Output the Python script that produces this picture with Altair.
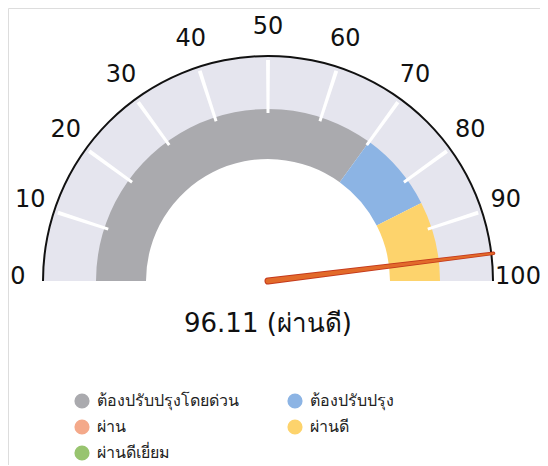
import math
import altair as alt
import pandas as pd

# ---------------- data ----------------
categories = ["ต้องปรับปรุงโดยด่วน", "ต้องปรับปรุง", "ผ่าน", "ผ่านดี", "ผ่านดีเยี่ยม"]
category_colors = ["#aaaaae", "#8cb4e4", "#f4a98a", "#fdd36c", "#98c46f"]

band_category = ["ต้องปรับปรุงโดยด่วน", "ต้องปรับปรุง", "ผ่านดี"]
band_start = [0, 70, 85]
band_end = [70, 85, 100]

tick_values = [10, 20, 30, 40, 50, 60, 70, 80, 90]
label_values = [0, 10, 20, 30, 40, 50, 60, 70, 80, 90, 100]

score = 96.11
score_text = "96.11 (ผ่านดี)"

needle_r = [0.0, 1.01]
needle_w_outer = [7.0, 3.4]
needle_w_inner = [5.0, 1.8]

# ---------------- layout constants ----------------
W, H = 532, 457
CX, CY = 260, 273
R_OUT = 225
FONT = "Noto Sans"
NUM_FONT = "DejaVu Sans"

theta_scale = alt.Scale(domain=[0, 100], range=[-math.pi / 2, math.pi / 2])

bands = pd.DataFrame({"cat": band_category, "start": band_start, "end": band_end})
full = pd.DataFrame({"start": [0], "end": [100]})
ticks = pd.DataFrame({"v": tick_values})
labels = pd.DataFrame({"v": label_values, "t": [str(v) for v in label_values]})
needle = pd.DataFrame({"r": needle_r, "wo": needle_w_outer, "wi": needle_w_inner, "v": [score, score]})
center = pd.DataFrame({"t": [score_text]})

cx = alt.value(CX)
cy = alt.value(CY)

light = alt.Chart(full).mark_arc(radius=R_OUT, radius2=170, color="#e5e5ee").encode(
    theta=alt.Theta("start:Q", scale=theta_scale, stack=False),
    theta2="end:Q",
    x=cx, y=cy,
)

outline = alt.Chart(full).mark_arc(radius=R_OUT + 1, radius2=R_OUT - 1, color="#111111").encode(
    theta=alt.Theta("start:Q", scale=theta_scale, stack=False),
    theta2="end:Q",
    x=cx, y=cy,
)

band_layer = alt.Chart(bands).mark_arc(radius=172, radius2=122).encode(
    theta=alt.Theta("start:Q", scale=theta_scale, stack=False),
    theta2="end:Q",
    color=alt.Color(
        "cat:N",
        scale=alt.Scale(domain=categories, range=category_colors),
        legend=alt.Legend(
            title=None,
            orient="none",
            legendX=66,
            legendY=385,
            columns=2,
            direction="horizontal",
            symbolType="circle",
            symbolSize=230,
            symbolStrokeWidth=0,
            symbolOpacity=1,
            labelFont=FONT,
            labelFontSize=16,
            labelColor="#222222",
            labelOffset=7,
            rowPadding=10,
            columnPadding=48,
            padding=0,
        ),
    ),
    x=cx, y=cy,
)

tick_layer = alt.Chart(ticks).transform_calculate(
    a="datum.v - 0.28", b="datum.v + 0.28"
).mark_arc(radius=221, radius2=168, color="#ffffff").encode(
    theta=alt.Theta("a:Q", scale=theta_scale, stack=False),
    theta2="b:Q",
    x=cx, y=cy,
)

label_layer = alt.Chart(labels).mark_text(
    radius=250, font=NUM_FONT, fontSize=24, color="#111111", align="center", baseline="middle", dy=-4
).encode(
    theta=alt.Theta("v:Q", scale=theta_scale, stack=False),
    text="t:N",
    x=cx, y=cy,
)

xs = alt.Scale(domain=[-1, 1], range=[CX - R_OUT, CX + R_OUT])
ys = alt.Scale(domain=[0, 1], range=[CY, CY - R_OUT])

needle_base = alt.Chart(needle).transform_calculate(
    ang="(datum.v / 100 - 0.5) * PI",
    nx="datum.r * sin(datum.ang)",
    ny="datum.r * cos(datum.ang)",
)
needle_outer = needle_base.mark_trail(color="#c4391c").encode(
    x=alt.X("nx:Q", scale=xs, axis=None),
    y=alt.Y("ny:Q", scale=ys, axis=None),
    order="r:Q",
    size=alt.Size("wo:Q", scale=None, legend=None),
)
needle_inner = needle_base.mark_trail(color="#e26a2a").encode(
    x=alt.X("nx:Q", scale=xs, axis=None),
    y=alt.Y("ny:Q", scale=ys, axis=None),
    order="r:Q",
    size=alt.Size("wi:Q", scale=None, legend=None),
)

center_text = alt.Chart(center).mark_text(
    font=NUM_FONT, fontSize=26, color="#111111", align="center", baseline="middle"
).encode(text="t:N", x=alt.value(CX), y=alt.value(CY + 43))

chart = alt.layer(
    light, band_layer, tick_layer, outline, label_layer, needle_outer, needle_inner, center_text
).properties(
    width=W, height=H, padding=0, autosize=alt.AutoSizeParams(type="none")
).configure_view(stroke=None, strokeWidth=0).configure(background="#ffffff")

chart.save("out.html", embed_options={"renderer": "svg", "actions": False})
